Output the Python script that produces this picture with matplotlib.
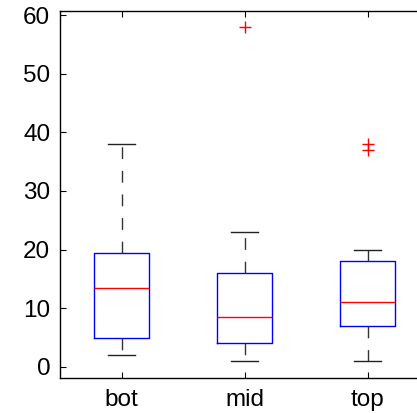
import matplotlib
matplotlib.use("Agg")
import matplotlib.pyplot as plt

# five-number summaries per group, plus outliers
groups = ["bot", "mid", "top"]
whislo = [2, 1, 1]
q1 = [5, 4, 7]
med = [13.5, 8.5, 11]
q3 = [19.5, 16, 18]
whishi = [38, 23, 20]
fliers = [[], [58], [37, 38]]

plt.rcParams["font.family"] = ["Liberation Sans", "DejaVu Sans"]

stats = [dict(label=g, whislo=lo, q1=a, med=m, q3=b, whishi=hi, fliers=f)
         for g, lo, a, m, b, hi, f in zip(groups, whislo, q1, med, q3, whishi, fliers)]

fig = plt.figure(figsize=(4.17, 4.13), dpi=100)
ax = fig.add_axes([60 / 417, 35 / 413, 369 / 417, 367 / 413])

ax.bxp(stats, positions=[1, 2, 3], widths=0.45, capwidths=0.22,
       boxprops=dict(color="blue", lw=1),
       medianprops=dict(color="red", lw=1),
       whiskerprops=dict(color="#333333", lw=1, linestyle=(0, (8.5, 8.5))),
       capprops=dict(color="#222222", lw=1),
       flierprops=dict(marker="+", markeredgecolor="red", markersize=9,
                       markeredgewidth=1, linestyle="none"))

ax.set_xlim(0.5, 3.5)
ax.set_ylim(-1.9, 60.7)
ax.set_yticks([0, 10, 20, 30, 40, 50, 60])
ax.tick_params(direction="in", top=True, right=True, labelsize=17.5, length=4)
ax.tick_params(axis="y", pad=7)
ax.tick_params(axis="x", pad=8)
for s in ax.spines.values():
    s.set_linewidth(1)

fig.savefig("out.png", dpi=100)
